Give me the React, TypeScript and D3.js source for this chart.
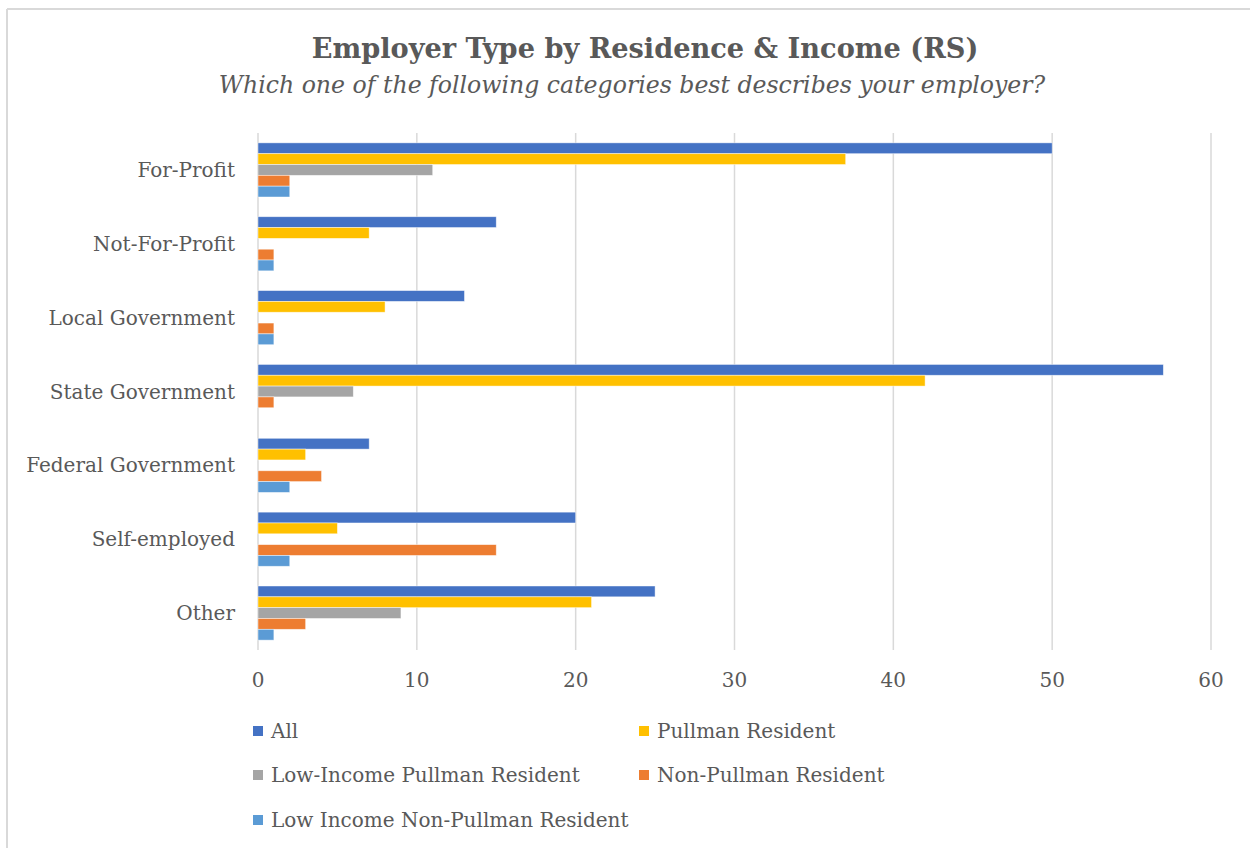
import React from "react";
import * as d3 from "d3";

const categories = [
  "For-Profit",
  "Not-For-Profit",
  "Local Government",
  "State Government",
  "Federal Government",
  "Self-employed",
  "Other",
];
const seriesNames = [
  "All",
  "Pullman Resident",
  "Low-Income Pullman Resident",
  "Non-Pullman Resident",
  "Low Income Non-Pullman Resident",
];
const allValues = [50, 15, 13, 57, 7, 20, 25];
const pullmanValues = [37, 7, 8, 42, 3, 5, 21];
const lowIncomePullmanValues = [11, 0, 0, 6, 0, 0, 9];
const nonPullmanValues = [2, 1, 1, 1, 4, 15, 3];
const lowIncomeNonPullmanValues = [2, 1, 1, 0, 2, 2, 1];
const seriesColors = ["#4472C4", "#FFC000", "#A5A5A5", "#ED7D31", "#5B9BD5"];
const xTicks = [0, 10, 20, 30, 40, 50, 60];

const seriesValues = [
  allValues,
  pullmanValues,
  lowIncomePullmanValues,
  nonPullmanValues,
  lowIncomeNonPullmanValues,
];

const W = 1250;
const H = 848;
const left = 258;
const right = 1211;
const top = 133;
const bottom = 650;
const textColor = "#595959";
const font = "'DejaVu Serif', 'Liberation Serif', serif";

export default function App() {
  const x = d3.scaleLinear().domain([0, 60]).range([left, right]);
  const y = d3
    .scaleBand<string>()
    .domain(categories)
    .range([top, bottom])
    .paddingInner(0.267)
    .paddingOuter(0.1335);
  const inner = d3
    .scaleBand<string>()
    .domain(seriesNames)
    .range([0, y.bandwidth()]);

  const legendItems = [
    { name: seriesNames[0], color: seriesColors[0], lx: 253, ly: 731 },
    { name: seriesNames[1], color: seriesColors[1], lx: 639, ly: 731 },
    { name: seriesNames[2], color: seriesColors[2], lx: 253, ly: 775 },
    { name: seriesNames[3], color: seriesColors[3], lx: 639, ly: 775 },
    { name: seriesNames[4], color: seriesColors[4], lx: 253, ly: 820 },
  ];

  return (
    <svg
      width={W}
      height={H}
      style={{ position: "absolute", left: 0, top: 0, background: "#fff" }}
    >
      <rect x={0} y={0} width={W} height={H} fill="#fff" />
      <line x1={7} x2={W} y1={9} y2={9} stroke="#d9d9d9" strokeWidth={2} />
      <line x1={7} x2={7} y1={9} y2={H} stroke="#d9d9d9" strokeWidth={2} />

      <text
        x={645}
        y={58}
        textAnchor="middle"
        fontFamily={font}
        fontWeight="bold"
        fontSize={27.2}
        fill={textColor}
      >
        Employer Type by Residence &amp; Income (RS)
      </text>
      <text
        x={632}
        y={93}
        textAnchor="middle"
        fontFamily={font}
        fontStyle="italic"
        fontSize={23.6}
        fill={textColor}
      >
        Which one of the following categories best describes your employer?
      </text>

      {xTicks.map((t) => (
        <g key={t}>
          <line
            x1={x(t)}
            x2={x(t)}
            y1={top}
            y2={bottom}
            stroke="#d9d9d9"
            strokeWidth={1.5}
          />
          <text
            x={x(t)}
            y={687}
            textAnchor="middle"
            fontFamily={font}
            fontSize={20}
            fill={textColor}
          >
            {t}
          </text>
        </g>
      ))}

      {categories.map((c, ci) => (
        <g key={c}>
          <text
            x={235}
            y={(y(c) as number) + y.bandwidth() / 2 + 7}
            textAnchor="end"
            fontFamily={font}
            fontSize={20}
            fill={textColor}
          >
            {c}
          </text>
          {seriesNames.map((s, si) => {
            const v = seriesValues[si][ci];
            if (v <= 0) return null;
            return (
              <rect
                key={s}
                x={x(0)}
                y={(y(c) as number) + (inner(s) as number)}
                width={x(v) - x(0)}
                height={inner.bandwidth()}
                fill={seriesColors[si]}
                stroke="#ffffff"
                strokeOpacity={0.6}
                strokeWidth={0.75}
              />
            );
          })}
        </g>
      ))}

      {legendItems.map((l) => (
        <g key={l.name}>
          <rect
            x={l.lx}
            y={l.ly - 5}
            width={10}
            height={10}
            fill={l.color}
          />
          <text
            x={l.lx + 18}
            y={l.ly + 7}
            fontFamily={font}
            fontSize={20}
            fill={textColor}
          >
            {l.name}
          </text>
        </g>
      ))}
    </svg>
  );
}
